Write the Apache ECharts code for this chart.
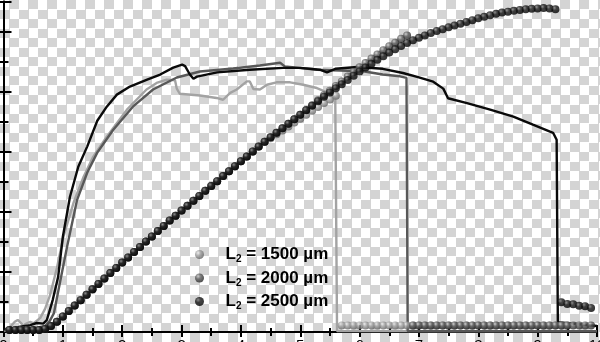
<!DOCTYPE html>
<html>
<head>
<meta charset="utf-8">
<script src="https://cdn.jsdelivr.net/npm/echarts@6/dist/echarts.min.js"></script>
<style>
  html, body { margin: 0; padding: 0; }
  #c {
    width: 600px; height: 342px;
    background-color: #ffffff;
    background-image: repeating-conic-gradient(#d4d4d4 0 25%, #ffffff 0 50%);
    background-size: 19px 19px;
  }
</style>
</head>
<body>
<div id="c"></div>
<script>
// ---- Data (x in axis units 0..10, y in axis units 0..11) ----
const xTickLabels = ['0','1','2','3','4','5','6','7','8','9','10'];
const legendValues = ['1500', '2000', '2500'];

// Solid curves (left axis)
const line1500 = [[0.01,0.03],[0.08,0.10],[0.19,0.34],[0.24,0.40],[0.33,0.23],[0.45,0.34],[0.51,0.29],[0.62,0.47],[0.70,0.77],[0.78,1.20],[0.90,2.13],[1.01,3.17],[1.18,4.30],[1.35,5.17],[1.51,5.83],[1.74,6.50],[2.08,7.40],[2.41,8.07],[2.58,8.29],[2.75,8.40],[2.89,8.38],[2.92,8.10],[2.97,7.93],[3.31,7.87],[3.59,7.79],[3.70,7.73],[3.82,7.96],[3.93,8.07],[4.10,8.34],[4.15,8.34],[4.21,8.09],[4.32,8.07],[4.44,8.23],[4.60,8.31],[4.83,8.31],[5.05,8.23],[5.28,8.12],[5.45,7.98],[5.53,7.90],[5.59,7.77],[5.62,0.03],[10,0.03]];
const line2000 = [[0.01,0.07],[0.28,0.10],[0.53,0.13],[0.70,0.20],[0.78,0.37],[0.85,0.63],[0.95,1.63],[1.07,2.83],[1.24,4.40],[1.41,5.30],[1.58,5.97],[1.85,6.73],[2.18,7.50],[2.52,8.07],[2.92,8.47],[3.31,8.67],[3.87,8.77],[4.32,8.87],[4.66,8.96],[4.74,8.84],[5.28,8.73],[6.06,8.68],[6.39,8.57],[6.68,8.51],[6.79,8.46],[6.81,0.03],[10,0.03]];
const line2500 = [[0.01,0.10],[0.11,0.09],[0.28,0.18],[0.45,0.23],[0.56,0.30],[0.67,0.28],[0.73,0.40],[0.78,0.73],[0.83,1.07],[0.92,1.83],[1.00,3.17],[1.12,4.50],[1.26,5.50],[1.41,6.17],[1.58,7.03],[1.74,7.50],[1.91,7.90],[2.13,8.17],[2.42,8.40],[2.64,8.57],[2.86,8.80],[3.01,8.90],[3.06,8.85],[3.14,8.57],[3.20,8.43],[3.26,8.50],[3.60,8.64],[4.15,8.73],[4.71,8.79],[5.00,8.79],[5.33,8.73],[5.45,8.64],[5.59,8.76],[5.96,8.82],[6.39,8.76],[6.73,8.62],[6.97,8.49],[7.24,8.33],[7.41,8.10],[7.49,7.78],[7.81,7.62],[8.20,7.40],[8.59,7.17],[8.92,6.90],[9.26,6.63],[9.32,6.40],[9.34,0.33],[10,0.20]];

// Sphere markers (right axis), sampled at these x positions
const dotX = [0.1,0.2,0.3,0.4,0.5,0.6,0.7,0.8,0.9,1.0,1.1,1.2,1.3,1.4,1.5,1.6,1.7,1.8,1.9,2.0,2.1,2.2,2.3,2.4,2.5,2.6,2.7,2.8,2.9,3.0,3.1,3.2,3.3,3.4,3.5,3.6,3.7,3.8,3.9,4.0,4.1,4.2,4.3,4.4,4.5,4.6,4.7,4.8,4.9,5.0,5.1,5.2,5.3,5.4,5.5,5.6,5.7,5.8,5.9,6.0,6.1,6.2,6.3,6.4,6.5,6.6,6.7,6.8,6.9,7.0,7.1,7.2,7.3,7.4,7.5,7.6,7.7,7.8,7.9,8.0,8.1,8.2,8.3,8.4,8.5,8.6,8.7,8.8,8.9,9.0,9.1,9.2,9.3,9.4,9.5,9.6,9.7,9.8,9.9];
const dots2500 = [0.07,0.07,0.07,0.07,0.07,0.07,0.10,0.20,0.34,0.52,0.70,0.88,1.06,1.24,1.42,1.60,1.78,1.96,2.13,2.31,2.48,2.66,2.83,3.01,3.18,3.36,3.53,3.71,3.87,4.04,4.20,4.37,4.53,4.70,4.86,5.02,5.19,5.35,5.52,5.68,5.84,6.01,6.17,6.33,6.48,6.63,6.78,6.93,7.08,7.23,7.38,7.53,7.68,7.83,7.97,8.11,8.25,8.39,8.53,8.67,8.80,8.93,9.06,9.18,9.30,9.41,9.52,9.62,9.71,9.79,9.87,9.95,10.02,10.08,10.14,10.20,10.26,10.32,10.38,10.44,10.49,10.54,10.59,10.63,10.66,10.69,10.72,10.74,10.76,10.77,10.78,10.77,10.74,0.99,0.93,0.92,0.87,0.86,0.80];
const dots2000 = [0.07,0.07,0.07,0.07,0.07,0.07,0.10,0.20,0.34,0.52,0.70,0.88,1.06,1.24,1.42,1.60,1.78,1.96,2.13,2.31,2.48,2.66,2.83,3.01,3.18,3.36,3.53,3.71,3.87,4.04,4.20,4.37,4.53,4.70,4.86,5.02,5.19,5.35,5.52,5.68,5.84,6.01,6.17,6.33,6.48,6.63,6.78,6.93,7.08,7.23,7.39,7.55,7.71,7.88,8.03,8.19,8.34,8.50,8.65,8.81,8.95,9.10,9.24,9.38,9.51,9.63,9.76,9.87,0.22,0.22,0.22,0.22,0.22,0.22,0.22,0.22,0.22,0.22,0.22,0.22,0.22,0.22,0.22,0.22,0.22,0.22,0.22,0.22,0.22,0.22,0.22,0.22,0.22,0.22,0.22,0.22,0.22,0.22,0.22];
const dots1500 = [0.07,0.07,0.07,0.07,0.07,0.07,0.10,0.20,0.34,0.52,0.70,0.88,1.06,1.24,1.42,1.60,1.78,1.96,2.13,2.31,2.48,2.66,2.83,3.01,3.18,3.36,3.53,3.71,3.87,4.04,4.20,4.37,4.53,4.70,4.86,5.02,5.19,5.35,5.52,5.68,5.84,6.01,6.17,6.33,6.45,6.58,6.71,6.84,6.97,7.10,7.23,7.36,7.49,7.62,7.74,7.86,0.22,0.22,0.22,0.22,0.22,0.22,0.22,0.22,0.22,0.22,0.22,0.22,0.22,0.22,0.22,0.22,0.22,0.22,0.22,0.22,0.22,0.22,0.22,0.22,0.22,0.22,0.22,0.22,0.22,0.22,0.22,0.22,0.22,0.22,0.22,0.22,0.22,0.22,0.22];

// ---- Chart ----
function sphere(hi, mid, lo) {
  return { type: 'radial', x: 0.35, y: 0.32, r: 0.72,
    colorStops: [{ offset: 0, color: hi }, { offset: 0.4, color: mid }, { offset: 1, color: lo }] };
}
const sphereColors = [
  sphere('#e8e8e8', '#a0a0a0', '#5e5e5e'),
  sphere('#c8c8c8', '#5c5c5c', '#222222'),
  sphere('#7a7a7a', '#141414', '#000000')
];
const lineColors = ['#a3a3a3', '#585858', '#0a0a0a'];
const dotSets = [dots1500, dots2000, dots2500];
const lineSets = [line1500, line2000, line2500];
const names = legendValues.map(v => 'L2 = ' + v + ' µm');

function axisStyle(tickLen, minorLen) {
  return {
    axisLine: { show: true, lineStyle: { color: '#000', width: 2 } },
    axisTick: { show: true, inside: true, length: tickLen, lineStyle: { color: '#000', width: 2 } },
    minorTick: { show: true, splitNumber: 2, length: minorLen, lineStyle: { color: '#000', width: 2 } },
    splitLine: { show: false },
    minorSplitLine: { show: false }
  };
}

const series = [];
lineSets.forEach((d, i) => {
  series.push({
    name: 'curve' + i, type: 'line', data: d, xAxisIndex: 0, yAxisIndex: 0,
    showSymbol: false, symbol: 'none', lineStyle: { color: lineColors[i], width: 2.4 },
    itemStyle: { color: lineColors[i] }, z: 2, silent: true
  });
});
dotSets.forEach((d, i) => {
  series.push({
    name: names[i], type: 'scatter', xAxisIndex: 0, yAxisIndex: 1,
    data: dotX.map((x, k) => [x, d[k]]),
    symbol: 'circle', symbolSize: 8,
    itemStyle: { color: sphereColors[i] }, z: 3 + i, silent: true
  });
});

const chart = echarts.init(document.getElementById('c'), null, { renderer: 'canvas' });
chart.setOption({
  animation: false,
  backgroundColor: 'transparent',
  grid: { left: 3.5, right: 3, top: 1.5, bottom: 10, containLabel: false, outerBoundsMode: 'none' },
  xAxis: [
    Object.assign({ type: 'value', position: 'bottom', min: 0, max: 10, interval: 1,
      axisLabel: { show: true, margin: 6, color: '#000', fontSize: 15, fontFamily: 'Liberation Sans',
        formatter: v => xTickLabels[Math.round(v)] } }, axisStyle(7, 4)),
    Object.assign({ type: 'value', position: 'top', min: 0, max: 10, interval: 1,
      axisLabel: { show: false } }, axisStyle(5, 4))
  ],
  yAxis: [
    Object.assign({ type: 'value', position: 'left', min: 0, max: 11, interval: 2,
      axisLabel: { show: false } }, axisStyle(8, 5)),
    Object.assign({ type: 'value', position: 'right', min: 0, max: 11, interval: 2,
      axisLabel: { show: false } }, axisStyle(8, 5))
  ],
  legend: {
    data: names, orient: 'vertical', left: 195, top: 246, padding: 0,
    itemWidth: 42, itemHeight: 9, itemGap: 5, icon: 'circle',
    selectedMode: false,
    formatter: function (name) {
      const v = name.replace('L2 = ', '');
      return '{a|L}{b|2}{a| = ' + v + '}';
    },
    textStyle: {
      rich: {
        a: { fontSize: 17, fontWeight: 'bold', fontFamily: 'Liberation Sans', color: '#000', lineHeight: 20 },
        b: { fontSize: 10, fontWeight: 'bold', fontFamily: 'Liberation Sans', color: '#000', lineHeight: 3, verticalAlign: 'bottom' }
      }
    }
  },
  series: series
});
</script>
</body>
</html>
